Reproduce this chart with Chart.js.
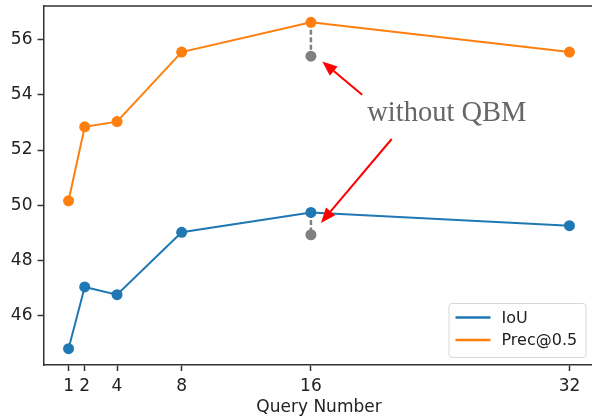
<!DOCTYPE html>
<html>
<head>
<meta charset="utf-8">
<script src="https://cdn.jsdelivr.net/npm/chart.js@4/dist/chart.umd.min.js"></script>
<style>
  html, body { margin: 0; padding: 0; background: #ffffff; overflow: hidden; width: 592px; height: 416px; }
  canvas { display: block; }
</style>
</head>
<body>
<canvas id="c" width="600" height="416"></canvas>
<script>
// ---- data ----
const queryNumbers = [1, 2, 4, 8, 16, 32];
const iouValues = [44.8, 47.04, 46.76, 49.02, 49.74, 49.26];
const precValues = [50.16, 52.84, 53.03, 55.55, 56.63, 55.55];
const withoutQbmQuery = 16;
const iouWithoutQbm = 48.93;
const precWithoutQbm = 55.4;
const xTicks = [1, 2, 4, 8, 16, 32];
const yTicks = [46, 48, 50, 52, 54, 56];
const seriesNames = ['IoU', 'Prec@0.5'];
const annotationText = 'without QBM';

const BLUE = '#1f77b4', ORANGE = '#ff7f0e', GRAY = '#808080', SPINE = '#333333';
const TICK_FONT = { family: 'DejaVu Sans', size: 17 };

const toPts = (xs, ys) => xs.map((x, i) => ({ x: x, y: ys[i] }));
const iouAt16 = iouValues[queryNumbers.indexOf(withoutQbmQuery)];
const precAt16 = precValues[queryNumbers.indexOf(withoutQbmQuery)];

function drawArrow(ctx, x0, y0, x1, y1) {
  const headLen = 15, headW = 12;
  const ang = Math.atan2(y1 - y0, x1 - x0);
  const bx = x1 - headLen * Math.cos(ang), by = y1 - headLen * Math.sin(ang);
  ctx.save();
  ctx.strokeStyle = '#ff0000';
  ctx.fillStyle = '#ff0000';
  ctx.lineWidth = 2;
  ctx.beginPath();
  ctx.moveTo(x0, y0);
  ctx.lineTo(bx, by);
  ctx.stroke();
  ctx.beginPath();
  ctx.moveTo(x1, y1);
  ctx.lineTo(bx + headW / 2 * Math.sin(ang), by - headW / 2 * Math.cos(ang));
  ctx.lineTo(bx - headW / 2 * Math.sin(ang), by + headW / 2 * Math.cos(ang));
  ctx.closePath();
  ctx.fill();
  ctx.restore();
}

const extras = {
  id: 'extras',
  afterDraw(chart) {
    const ctx = chart.ctx, a = chart.chartArea;
    const xs = chart.scales.x, ys = chart.scales.y;
    // frame top & right
    ctx.save();
    ctx.strokeStyle = SPINE;
    ctx.lineWidth = 1.5;
    ctx.beginPath();
    ctx.moveTo(a.left, a.top);
    ctx.lineTo(a.right, a.top);
    ctx.lineTo(a.right, a.bottom);
    ctx.stroke();
    ctx.restore();

    // arrows
    drawArrow(ctx, xs.getPixelForValue(19.17), ys.getPixelForValue(54.0),
                   xs.getPixelForValue(16.7), ys.getPixelForValue(55.21));
    drawArrow(ctx, xs.getPixelForValue(21.0), ys.getPixelForValue(52.40),
                   xs.getPixelForValue(16.62), ys.getPixelForValue(49.36));
    // text
    ctx.save();
    ctx.fillStyle = '#666666';
    ctx.font = '28.5px "Liberation Serif"';
    ctx.textAlign = 'center';
    ctx.textBaseline = 'alphabetic';
    ctx.fillText(annotationText, xs.getPixelForValue(24.41), ys.getPixelForValue(53.04));
    ctx.restore();

    // legend
    const lx = a.right - 9 - 137, ly = a.bottom - 8 - 54, lw = 137, lh = 54;
    ctx.save();
    ctx.fillStyle = 'rgba(255,255,255,0.8)';
    ctx.strokeStyle = '#d9d9d9';
    ctx.lineWidth = 1;
    ctx.beginPath();
    ctx.roundRect(lx + 0.5, ly + 0.5, lw, lh, 3);
    ctx.fill();
    ctx.stroke();
    const colors = [BLUE, ORANGE];
    const rows = [ly + 14.5, ly + 37];
    ctx.font = '16px "DejaVu Sans"';
    ctx.textBaseline = 'middle';
    ctx.textAlign = 'left';
    seriesNames.forEach((n, i) => {
      ctx.strokeStyle = colors[i];
      ctx.lineWidth = 2.5;
      ctx.beginPath();
      ctx.moveTo(lx + 7, rows[i]);
      ctx.lineTo(lx + 42, rows[i]);
      ctx.stroke();
      ctx.fillStyle = '#222222';
      ctx.fillText(n, lx + 53, rows[i] + 1);
    });
    ctx.restore();
  }
};

const axisCommon = {
  grid: { drawOnChartArea: false, drawTicks: true, tickLength: 6, tickColor: SPINE, tickWidth: 1.5 },
  border: { display: true, color: SPINE, width: 1.5 },
};

new Chart(document.getElementById('c'), {
  type: 'line',
  data: {
    datasets: [
      { label: seriesNames[0], data: toPts(queryNumbers, iouValues), borderColor: BLUE, backgroundColor: BLUE,
        borderWidth: 2, pointRadius: 5.5, pointBorderWidth: 0, tension: 0 },
      { label: seriesNames[1], data: toPts(queryNumbers, precValues), borderColor: ORANGE, backgroundColor: ORANGE,
        borderWidth: 2, pointRadius: 5.5, pointBorderWidth: 0, tension: 0 },
      { label: 'iou-noqbm', data: [{ x: withoutQbmQuery, y: iouAt16 }, { x: withoutQbmQuery, y: iouWithoutQbm }],
        borderColor: GRAY, backgroundColor: GRAY, borderWidth: 2.5, borderDash: [5, 2.5],
        pointRadius: [0, 5.5], pointBorderWidth: 0 },
      { label: 'prec-noqbm', data: [{ x: withoutQbmQuery, y: precAt16 }, { x: withoutQbmQuery, y: precWithoutQbm }],
        borderColor: GRAY, backgroundColor: GRAY, borderWidth: 2.5, borderDash: [5, 2.5],
        pointRadius: [0, 5.5], pointBorderWidth: 0 }
    ]
  },
  options: {
    responsive: false,
    animation: false,
    events: [],
    layout: { padding: { top: 6, right: 4, left: 0, bottom: 0 } },
    plugins: { legend: { display: false }, tooltip: { enabled: false } },
    scales: {
      x: Object.assign({}, axisCommon, {
        type: 'linear', min: -0.55, max: 33.55,
        afterBuildTicks: s => { s.ticks = xTicks.map(v => ({ value: v })); },
        afterFit: s => { s.height = 51; s.paddingLeft = 0; s.paddingRight = 0; },
        ticks: { font: TICK_FONT, color: '#222222', padding: 5, maxRotation: 0, autoSkip: false, callback: v => String(v) },
        title: { display: true, text: 'Query Number', font: TICK_FONT, color: '#222222', padding: { top: 0, bottom: -2 } }
      }),
      y: Object.assign({}, axisCommon, {
        type: 'linear', min: 44.21, max: 57.22,
        afterBuildTicks: s => { s.ticks = yTicks.map(v => ({ value: v })); },
        afterFit: s => { s.width = 43.5; s.paddingTop = 0; s.paddingBottom = 0; },
        ticks: { font: TICK_FONT, color: '#222222', padding: 5, autoSkip: false, callback: v => String(v) }
      })
    }
  },
  plugins: [extras]
});
</script>
</body>
</html>
